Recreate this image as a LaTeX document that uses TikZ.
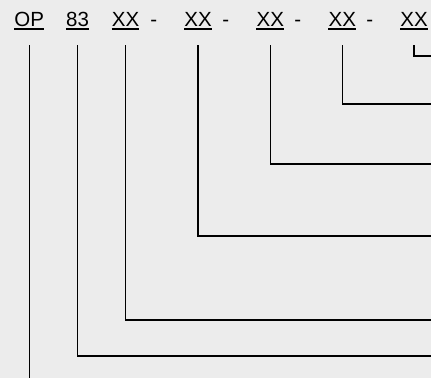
\documentclass[tikz,border=0pt]{standalone}
\usepackage{fontspec}
\setmainfont{Liberation Sans}
\definecolor{bg}{RGB}{236,236,236}
\begin{document}
\begin{tikzpicture}[x=1pt,y=-1pt,
  lbl/.style={inner sep=0pt, anchor=base, font=\fontsize{20.5}{25}\selectfont},
  wire/.style={line width=1.5pt, black},
  uline/.style={line width=1.8pt, black}]
\fill[bg] (0,0) rectangle (431,378);
\useasboundingbox (0,0) rectangle (431,378);
% labels
\node[lbl] (op) at (29.3,26.5) {OP};
\node[lbl] (n83) at (77.6,26.5) {83};
\node[lbl] (x1) at (125.5,26.5) {XX};
\node[lbl] (d1) at (153.8,26.5) {-};
\node[lbl] (x2) at (198,26.5) {XX};
\node[lbl] (d2) at (225.8,26.5) {-};
\node[lbl] (x3) at (270.3,26.5) {XX};
\node[lbl] (d3) at (297.8,26.5) {-};
\node[lbl] (x4) at (342.3,26.5) {XX};
\node[lbl] (d4) at (369.8,26.5) {-};
\node[lbl] (x5) at (414,26.5) {XX};
% underlines
\foreach \n in {op,n83,x1,x2,x3,x4,x5}
  \draw[uline] ([yshift=-2.7pt]\n.base west) -- ([yshift=-2.7pt]\n.base east);
% connector tops and right ends
\coordinate (top) at (0,45);
\coordinate (e5) at (431,56);
\coordinate (e4) at (431,104);
\coordinate (e3) at (431,164);
\coordinate (e2) at (431,236);
\coordinate (e1) at (431,320);
\coordinate (e0) at (431,356);
\coordinate (bot) at (0,378);
\draw[wire] (x5 |- top) |- (e5);
\draw[wire] (x4 |- top) |- (e4);
\draw[wire] (x3 |- top) |- (e3);
\draw[wire] (x2 |- top) |- (e2);
\draw[wire] (x1 |- top) |- (e1);
\draw[wire] (n83 |- top) |- (e0);
\draw[wire] (op |- top) -- (op |- bot);
\end{tikzpicture}
\end{document}
